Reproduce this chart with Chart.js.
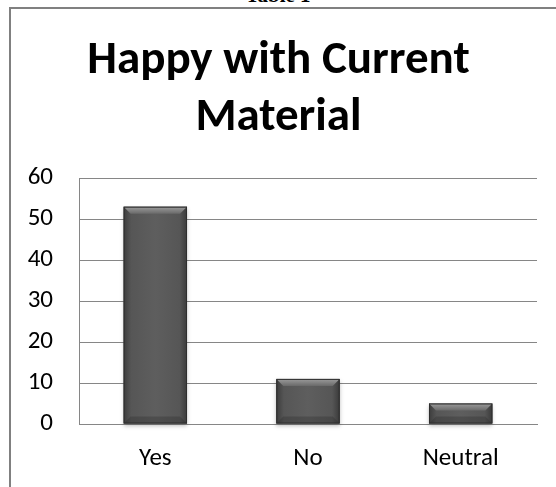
<!DOCTYPE html>
<html><head><meta charset="utf-8">
<script src="https://cdn.jsdelivr.net/npm/chart.js@4/dist/chart.umd.min.js"></script>
<style>
html,body{margin:0;padding:0;background:#fff;width:556px;height:487px;overflow:hidden;}
#cap{position:absolute;left:0;width:556px;top:-17px;text-align:center;font:bold 21px "Liberation Serif","Times New Roman",serif;color:#000;line-height:24px;}
#frame{position:absolute;left:9px;top:7px;width:560px;height:500px;border-left:2px solid #808080;border-top:2px solid #808080;background:#fff;}
#wrap{position:absolute;left:0;top:0;width:556px;height:487px;}
</style></head>
<body>
<div id="cap">Table 1</div>
<div id="frame"></div>
<div id="wrap"><canvas id="c" width="556" height="487"></canvas></div>
<script>
const titleLines = ['Happy with Current', 'Material'];
const categories = ['Yes', 'No', 'Neutral'];
const values = [53, 11, 5];
const yTicks = {min: 0, max: 60, step: 10};

const FONT = 'Carlito, Lato, "Open Sans", sans-serif';

const bevelPlugin = {
  id: 'bevel',
  afterDatasetsDraw(chart) {
    const ctx = chart.ctx;
    const meta = chart.getDatasetMeta(0);
    meta.data.forEach(el => {
      const p = el.getProps(['x','y','base','width'], true);
      const l = p.x - p.width/2, r = p.x + p.width/2, t = p.y, b = p.base;
      const h = b - t;
      ctx.save();
      ctx.shadowColor = 'rgba(0,0,0,0.25)';
      ctx.shadowBlur = 4;
      ctx.shadowOffsetY = 2;
      const g = ctx.createLinearGradient(l, 0, r, 0);
      g.addColorStop(0, '#3c3c3c');
      g.addColorStop(0.12, '#565656');
      g.addColorStop(0.5, '#5e5e5e');
      g.addColorStop(0.88, '#565656');
      g.addColorStop(1, '#3a3a3a');
      ctx.fillStyle = g;
      ctx.fillRect(l, t, p.width, h);
      ctx.shadowColor = 'transparent';
      const bv = Math.min(7, h/2);
      const tg = ctx.createLinearGradient(0, t, 0, t+bv);
      tg.addColorStop(0, '#9c9c9c');
      tg.addColorStop(1, '#6a6a6a');
      ctx.fillStyle = tg;
      ctx.beginPath();
      ctx.moveTo(l, t); ctx.lineTo(r, t); ctx.lineTo(r-bv, t+bv); ctx.lineTo(l+bv, t+bv); ctx.closePath();
      ctx.fill();
      ctx.fillStyle = 'rgba(40,40,40,0.3)';
      ctx.beginPath();
      ctx.moveTo(l, b); ctx.lineTo(r, b); ctx.lineTo(r-bv, b-bv); ctx.lineTo(l+bv, b-bv); ctx.closePath();
      ctx.fill();
      ctx.strokeStyle = '#2e2e2e';
      ctx.lineWidth = 1;
      ctx.strokeRect(l+0.5, t+0.5, p.width-1, h-1);
      ctx.restore();
    });
  }
};

new Chart(document.getElementById('c'), {
  type: 'bar',
  data: {
    labels: categories,
    datasets: [{
      data: values,
      backgroundColor: '#555555',
      borderWidth: 0,
      barPercentage: 0.415,
      categoryPercentage: 1
    }]
  },
  options: {
    responsive: false,
    animation: false,
    layout: {padding: {left: 20, right: 19, top: 33, bottom: 0}},
    plugins: {
      legend: {display: false},
      tooltip: {enabled: false},
      title: {
        display: true,
        text: titleLines,
        color: '#000',
        font: {family: FONT, size: 47, weight: 'bold', lineHeight: 1.213},
        padding: {top: 0, bottom: 31}
      }
    },
    scales: {
      x: {
        afterFit(s) { s.height = 63; },
        grid: {display: false, drawTicks: false},
        border: {display: true, color: '#868686', width: 1},
        ticks: {color: '#000', font: {family: FONT, size: 25}, padding: 20}
      },
      y: {
        min: yTicks.min, max: yTicks.max,
        afterFit(s) { s.width = 59; },
        grid: {color: '#868686', lineWidth: 1, drawTicks: false},
        border: {display: true, color: '#868686', width: 1},
        ticks: {stepSize: yTicks.step, color: '#000', font: {family: FONT, size: 25}, padding: 26}
      }
    }
  },
  plugins: [bevelPlugin]
});
</script>
</body></html>
